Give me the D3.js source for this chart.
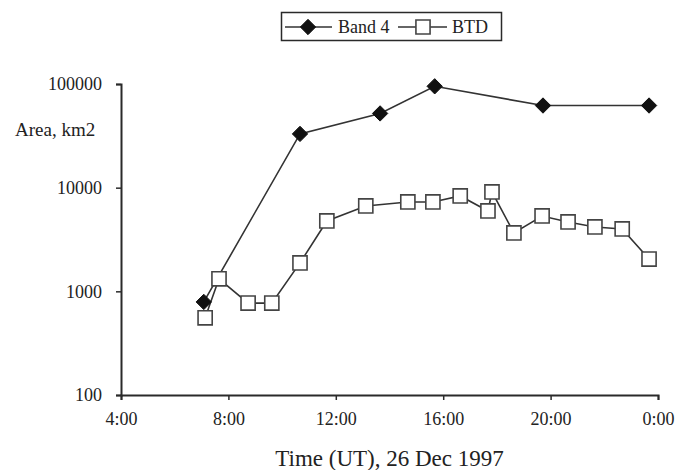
<!DOCTYPE html>
<html>
<head>
<meta charset="utf-8">
<script src="https://cdn.jsdelivr.net/npm/d3@7"></script>
<style>
  html, body { margin: 0; padding: 0; background: #fff; }
  svg text { font-family: "Liberation Serif", "Times New Roman", serif !important; fill: #222; }
</style>
</head>
<body>
<svg id="chart" width="678" height="470"></svg>
<script>
// Cloud area over time, 26 Dec 1997 (UT)
const band4Times  = ["7:05", "10:40", "13:39", "15:41", "19:43", "23:40"];
const band4Values = [790, 33000, 52000, 95000, 62000, 62000];

const btdTimes  = ["7:08", "7:39", "8:44", "9:37", "10:40", "11:40", "13:07", "14:41", "15:37",
                   "16:38", "17:40", "17:49", "18:38", "19:41", "20:39", "21:39", "22:40", "23:40"];
const btdValues = [555, 1320, 770, 770, 1880, 4770, 6660, 7280, 7280,
                   8320, 5960, 9100, 3660, 5330, 4670, 4180, 4000, 2050];

const xTickHours  = [4, 8, 12, 16, 20, 24];
const xTickLabels = ["4:00", "8:00", "12:00", "16:00", "20:00", "0:00"];
const yTickValues = [100, 1000, 10000, 100000];
const yTickLabels = ["100", "1000", "10000", "100000"];

const seriesNames = ["Band 4", "BTD"];

const toHours = s => { const [h, m] = s.split(":").map(Number); return h + m / 60; };
const serif = '"Liberation Serif", "Times New Roman", serif';

const svg = d3.select("#chart");

const x = d3.scaleLinear().domain([4, 24]).range([121, 658]);
const y = d3.scaleLog().domain([100, 100000]).range([395, 84]);

const ink = "#2a2a2a";

// Axes
const xAxis = d3.axisBottom(x)
  .tickValues(xTickHours)
  .tickFormat((d, i) => xTickLabels[i])
  .tickSize(5)
  .tickPadding(12);
const gx = svg.append("g").attr("transform", `translate(0,${y(100)})`).call(xAxis);

const yAxis = d3.axisLeft(y)
  .tickValues(yTickValues)
  .tickFormat((d, i) => yTickLabels[i])
  .tickSize(5)
  .tickPadding(14);
const gy = svg.append("g").attr("transform", `translate(${x(4)},0)`).call(yAxis);

[gx, gy].forEach(g => {
  g.attr("font-family", null).style("font-family", serif);
  g.select(".domain").attr("stroke", ink).attr("stroke-width", 2);
  g.selectAll(".tick line").attr("stroke", ink).attr("stroke-width", 1.5);
  g.selectAll(".tick text")
    .style("font-family", serif)
    .attr("font-size", 18)
    .attr("fill", "#222");
});

// Axis titles
svg.append("text")
  .attr("x", (x(4) + x(24)) / 2)
  .attr("y", 466)
  .attr("text-anchor", "middle")
  .style("font-family", serif)
  .attr("font-size", 23)
  .text("Time (UT), 26 Dec 1997");

svg.append("text")
  .attr("x", 15)
  .attr("y", 136)
  .style("font-family", serif)
  .attr("font-size", 19)
  .text("Area, km2");

// Series
const band4 = band4Times.map((t, i) => ({ h: toHours(t), v: band4Values[i] }));
const btd = btdTimes.map((t, i) => ({ h: toHours(t), v: btdValues[i] }));

const line = d3.line().x(d => x(d.h)).y(d => y(d.v));

svg.append("path").datum(band4)
  .attr("d", line).attr("fill", "none")
  .attr("stroke", "#333").attr("stroke-width", 1.6);

svg.append("path").datum(btd)
  .attr("d", line).attr("fill", "none")
  .attr("stroke", "#333").attr("stroke-width", 1.6);

const diamond = d3.symbol().type(d3.symbolDiamond2).size(150);
const square = d3.symbol().type(d3.symbolSquare).size(200);

svg.append("g").selectAll("path")
  .data(btd).join("path")
  .attr("transform", d => `translate(${x(d.h)},${y(d.v)})`)
  .attr("d", square)
  .attr("fill", "#fff")
  .attr("stroke", "#444")
  .attr("stroke-width", 1.6);

svg.append("g").selectAll("path")
  .data(band4).join("path")
  .attr("transform", d => `translate(${x(d.h)},${y(d.v)})`)
  .attr("d", diamond)
  .attr("fill", "#111")
  .attr("stroke", "#111")
  .attr("stroke-width", 1);

// Legend
const legend = svg.append("g").style("font-family", serif);
legend.append("rect")
  .attr("x", 281.5).attr("y", 12.5)
  .attr("width", 220).attr("height", 28)
  .attr("fill", "#fff").attr("stroke", ink).attr("stroke-width", 1.5);

const ly = 27;
legend.append("line").attr("x1", 285).attr("x2", 332).attr("y1", ly).attr("y2", ly)
  .attr("stroke", "#333").attr("stroke-width", 1.6);
legend.append("path").attr("transform", `translate(308,${ly})`).attr("d", diamond)
  .attr("fill", "#111").attr("stroke", "#111");
legend.append("text").attr("x", 338).attr("y", ly + 6).attr("font-size", 18)
  .style("font-family", serif).text(seriesNames[0]);

legend.append("line").attr("x1", 398).attr("x2", 447).attr("y1", ly).attr("y2", ly)
  .attr("stroke", "#333").attr("stroke-width", 1.6);
legend.append("path").attr("transform", `translate(423,${ly})`).attr("d", square)
  .attr("fill", "#fff").attr("stroke", "#444").attr("stroke-width", 1.6);
legend.append("text").attr("x", 452).attr("y", ly + 6).attr("font-size", 18)
  .style("font-family", serif).text(seriesNames[1]);
</script>
</body>
</html>
